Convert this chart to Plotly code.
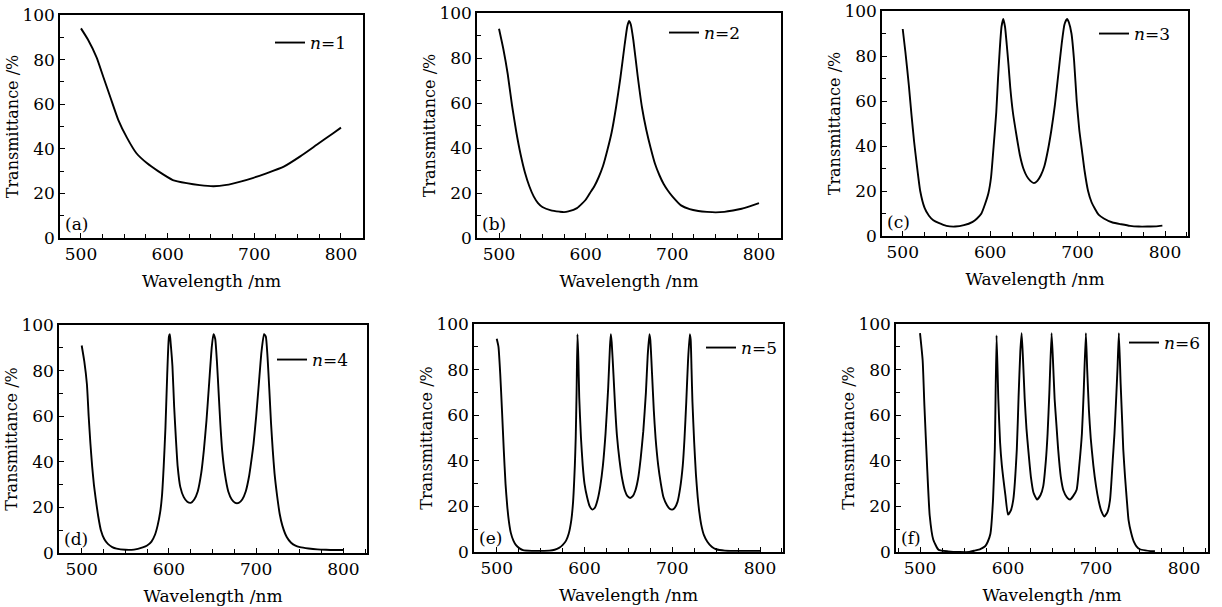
import plotly.graph_objects as go

# ---------------- data ----------------
wl_a = [500, 508, 518, 526, 534, 543, 553, 564, 576, 589, 606, 622, 637, 653, 668, 684, 699, 714, 734, 753, 772, 791, 800]
t_a = [94, 89, 81, 72, 63, 53, 45, 38, 33.6, 30, 26, 24.6, 23.7, 23.2, 23.8, 25.3, 27, 29, 32, 36.6, 41.8, 47, 49.5]

wl_b = [500, 505, 510, 515, 520, 525, 530, 535, 540, 545, 550, 560, 570, 575, 580, 590, 600, 605, 610, 615, 620, 625, 630,
        635, 640, 645, 648, 650, 652, 655, 660, 665, 670, 675, 680, 685, 690, 695, 700, 710, 720, 730, 740, 750, 760, 770,
        780, 790, 800]
t_b = [93, 84, 73, 59, 47, 37, 29, 23, 18.5, 15.5, 13.8, 12.3, 11.7, 11.5, 11.8, 13.3, 17, 20, 23, 27, 32, 39, 47,
       58, 71, 86, 94, 96.5, 95, 88, 72, 58, 48, 40, 33, 28, 24, 21, 18.5, 14.5, 12.8, 12, 11.6, 11.4, 11.6, 12.2,
       13, 14.2, 15.5]

wl_c = [500, 503, 507, 510, 513, 516, 520, 525, 530, 535, 541, 550, 560, 570, 580, 585, 590, 594, 598, 601, 604, 607,
        609, 611, 613, 615, 617, 619, 621, 623, 626, 630, 634, 638, 642, 646, 650, 654, 658, 662, 666, 670, 674, 678,
        682, 685, 688, 690, 693, 696, 699, 702, 705, 708, 712, 716, 720, 724, 730, 740, 750, 760, 770, 780, 790, 797]
t_c = [92, 82, 67, 54, 42, 32, 20, 12.5, 9, 7, 5.8, 4.5, 4.2, 4.8, 6.3, 7.8, 10, 14, 19, 26, 40, 55,
       70, 83, 93, 96.5, 93, 85, 76, 66, 55, 45, 36, 30, 26.5, 24.5, 23.5, 24.5, 27, 31, 38, 47, 58, 72,
       86, 94, 96.5, 95, 90, 78, 60, 47, 38, 29, 20, 15, 12, 9.5, 7.8, 6, 5.2, 4.5, 4.2, 4.2, 4.3, 4.6]

wl_d = [500, 503, 506, 508, 510, 512, 514, 516, 519, 522, 526, 530, 535, 540, 550, 560, 570, 575, 580, 584, 587, 590,
        592, 594, 596, 598, 600, 601, 602, 604, 606, 608, 610, 613, 617, 621, 625, 629, 633, 637, 640, 643, 646, 649,
        651, 653, 655, 657, 659, 661, 664, 668, 672, 676, 680, 684, 688, 692, 695, 697, 700, 703, 706, 709, 711, 713,
        715, 717, 719, 721, 724, 727, 730, 735, 740, 745, 750, 760, 770, 780, 790, 800]
t_d = [91, 84, 74, 60, 48, 38, 30, 24, 16, 10, 6, 4, 2.6, 1.9, 1.4, 1.5, 2.5, 3.3, 5, 8, 12, 18,
       25, 38, 55, 78, 95, 96, 92, 82, 64, 50, 38, 29, 24.5, 22.5, 22, 23.5, 27, 35, 45, 58, 74, 90,
       96, 94, 84, 70, 56, 45, 35, 27, 23.5, 22, 22, 23.5, 27, 34, 42, 48, 60, 74, 88, 96, 95, 86,
       72, 57, 45, 35, 25, 17, 12, 7, 4.5, 3.2, 2.6, 2, 1.6, 1.4, 1.3, 1.3]

wl_e = [500, 502, 504, 506, 508, 510, 512, 514, 516, 519, 522, 526, 530, 540, 550, 560, 566, 571, 575, 579, 582, 585,
        587, 589, 590, 591, 592, 593, 594, 596, 598, 600, 603, 606, 609, 612, 615, 618, 621, 624, 627, 629, 630, 631,
        633, 635, 637, 640, 643, 646, 649, 652, 655, 658, 661, 664, 667, 670, 672, 674, 675, 677, 679, 681, 684, 687,
        690, 694, 697, 700, 703, 706, 709, 712, 714, 716, 718, 720, 721, 722, 723, 725, 727, 729, 731, 733, 736, 740,
        745, 750, 760, 770, 780, 790, 800]
t_e = [93.5, 90, 78, 62, 45, 30, 20, 13, 8.5, 5, 3, 1.6, 0.8, 0.5, 0.5, 0.6, 1, 1.8, 3, 5, 8, 14,
       22, 38, 50, 70, 95.5, 85, 68, 50, 38, 30, 24, 20, 18.6, 19.5, 23, 29, 38, 52, 72, 90, 95.5, 92,
       78, 63, 51, 40, 32, 27, 24.5, 23.7, 24.5, 27, 32, 41, 53, 70, 86, 95.5, 93, 78, 62, 50, 38, 30,
       24, 20.5, 19, 18.6, 19.5, 22, 28, 38, 50, 66, 84, 95.5, 93, 80, 66, 48, 34, 24, 17, 12, 7.5, 4.5,
       2.3, 1.2, 0.6, 0.5, 0.5, 0.5, 0.5]

wl_f = [500, 503, 505, 508, 511, 515, 521, 532, 545, 556, 563, 568, 574, 577, 580, 583, 585, 587, 589, 591, 593, 597,
        600, 603, 606, 610, 612, 614, 615.5, 617, 619, 621, 623, 626, 629, 633, 637, 640, 643, 645, 647, 649.5, 651,
        653, 655, 657, 660, 663, 667, 670.5, 674, 678, 681, 684, 686, 688.5, 690, 692, 694, 697, 700, 703, 706,
        709.5, 713, 716, 719, 721, 723, 724.5, 726, 728, 730, 731, 733, 735, 737, 740, 743, 746, 750, 756, 762, 767]
t_f = [96, 84, 64, 38, 16, 5.5, 1, 0.3, 0, 0, 0.7, 1.2, 2.5, 4.5, 8, 23, 45, 95, 67, 48, 38, 25,
       16.4, 18, 23, 45, 68, 88, 96, 85, 67, 54, 45, 33, 26, 23, 25, 28.8, 40, 52, 70, 96, 85,
       67, 56, 45, 33, 27, 24, 23, 24.5, 27.3, 38, 52, 70, 96, 80, 62, 50, 38, 29, 22.5, 18,
       15.6, 17.5, 23, 40, 52, 68, 81, 96, 74, 55, 45, 33, 23, 14, 8.3, 4.5, 2.5, 1.2, 0.7, 0.4, 0.3]

panel_labels = ["(a)", "(b)", "(c)", "(d)", "(e)", "(f)"]
n_values = [1, 2, 3, 4, 5, 6]
x_title = "Wavelength /nm"
y_title = "Transmittance /%"
x_tick_vals = [500, 600, 700, 800]
y_tick_vals = [0, 20, 40, 60, 80, 100]

# ---------------- layout geometry ----------------
W, H = 1222, 607
FONT = "DejaVu Serif"
# plot-area boxes in pixels: left, right, top, bottom
boxes = [(60, 363, 15, 238), (477, 781, 13, 238), (882, 1188, 11, 236),
         (59, 367, 325, 553), (474, 783, 324, 552), (896, 1208, 324, 552)]
x_ranges = [[475.8, 825.4], [474.6, 825.4], [476.3, 826.3],
            [474.0, 827.0], [474.1, 826.2], [472.7, 827.3]]
# legend line start (px) and vertical centre (px)
legend_px = [(278, 43), (672, 33), (1102, 34), (280, 360), (709, 348), (1132, 343)]

series = [(wl_a, t_a), (wl_b, t_b), (wl_c, t_c), (wl_d, t_d), (wl_e, t_e), (wl_f, t_f)]

fig = go.Figure()
layout = dict(
    width=W, height=H,
    margin=dict(l=0, r=0, t=0, b=0, pad=0),
    paper_bgcolor="white", plot_bgcolor="white",
    font=dict(family=FONT, size=17, color="black"),
    annotations=[],
)

for i, ((wl, t), box, xr, lp) in enumerate(zip(series, boxes, x_ranges, legend_px)):
    k = i + 1
    sfx = "" if k == 1 else str(k)
    lg = "legend" + sfx
    fig.add_trace(go.Scatter(
        x=wl, y=t, mode="lines",
        line=dict(color="black", width=1.9, shape="spline", smoothing=0.5),
        name=f"<i>n</i>={n_values[i]}",
        xaxis="x" + sfx, yaxis="y" + sfx, legend=lg, showlegend=True,
        hoverinfo="x+y",
    ))
    l, r, tp, bt = box
    common = dict(
        showline=True, mirror=True, linecolor="black", linewidth=1.5,
        ticks="inside", ticklen=5, tickwidth=1.3, tickcolor="black",
        showgrid=False, zeroline=False, automargin=False,
        tickfont=dict(family=FONT, size=17, color="black"),
    )
    layout["xaxis" + sfx] = dict(
        common, domain=[l / W, r / W], range=xr, anchor="y" + sfx,
        tickmode="array", tickvals=x_tick_vals,
        minor=dict(dtick=25, tick0=500, ticks="inside", ticklen=4, tickcolor="black", tickwidth=1.2),
        title=dict(text=x_title, font=dict(family=FONT, size=17), standoff=12),
    )
    layout["yaxis" + sfx] = dict(
        common, domain=[1 - bt / H, 1 - tp / H], range=[0, 100], anchor="x" + sfx,
        tickmode="array", tickvals=y_tick_vals,
        minor=dict(dtick=10, tick0=0, ticks="inside", ticklen=4, tickcolor="black", tickwidth=1.2),
        title=dict(text=y_title, font=dict(family=FONT, size=16), standoff=0),
    )
    layout[lg] = dict(
        x=(lp[0] - 8) / W, y=1 - lp[1] / H, xanchor="left", yanchor="middle",
        bgcolor="rgba(0,0,0,0)", borderwidth=0, itemwidth=30,
        font=dict(family=FONT, size=17, color="black"),
    )
    layout["annotations"].append(dict(
        text=panel_labels[i], xref=f"x{sfx} domain", yref=f"y{sfx} domain",
        x=0.01, y=0.01, xanchor="left", yanchor="bottom", showarrow=False,
        font=dict(family=FONT, size=17, color="black"),
    ))

fig.update_layout(**layout)
fig.write_html(
    "out.html",
    config={"displayModeBar": False},
    post_script="document.body.style.margin='0px';document.body.style.padding='0px';",
)
